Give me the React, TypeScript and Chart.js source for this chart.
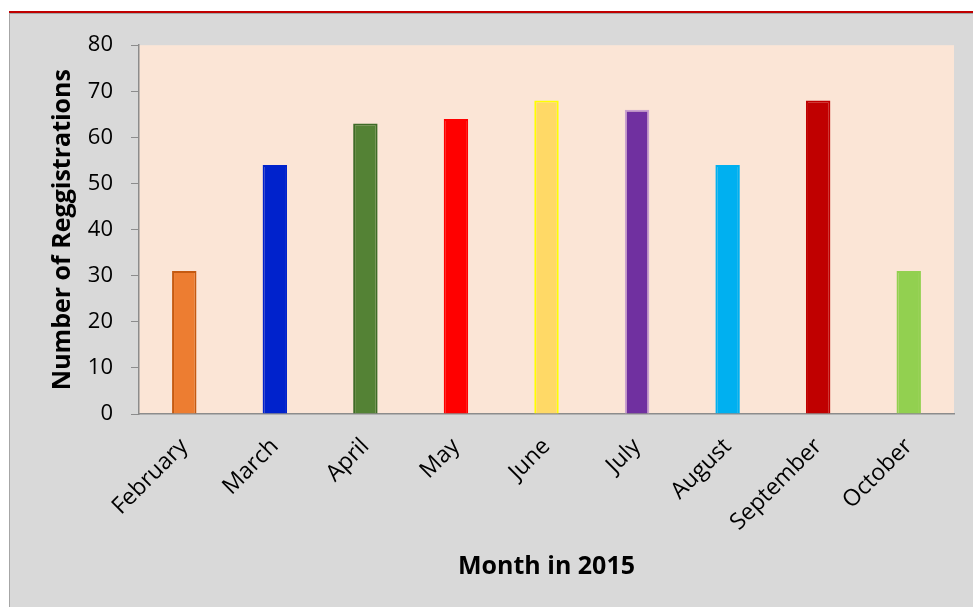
import React, { useEffect, useRef } from "react";
import { Chart, registerables } from "chart.js";

Chart.register(...registerables);

const months = ["February", "March", "April", "May", "June", "July", "August", "September", "October"];
const registrations = [31, 54, 63, 64, 68, 66, 54, 68, 31];
const barColors = ["#ED7D31", "#0022CC", "#548235", "#FF0000", "#FFD966", "#7030A0", "#00B0F0", "#C00000", "#92D050"];
const barBorders = ["#C55A11", "#0022CC", "#3E6B27", "#FF0000", "#FFFF00", "#C9A0CF", "#00B0F0", "#C00000", "#92D050"];
const yTitle = "Number of Reggistrations";
const xTitle = "Month in 2015";

const plotBg = {
  id: "plotBg",
  beforeDraw(chart: any) {
    const { ctx, chartArea } = chart;
    ctx.save();
    ctx.fillStyle = "#FBE5D6";
    ctx.fillRect(chartArea.left, chartArea.top, chartArea.right - chartArea.left, chartArea.bottom - chartArea.top);
    ctx.restore();
  },
};

export default function App() {
  const ref = useRef<HTMLCanvasElement>(null);
  useEffect(() => {
    const chart = new Chart(ref.current!, {
      type: "bar",
      data: {
        labels: months,
        datasets: [
          {
            data: registrations,
            backgroundColor: barColors,
            borderColor: barBorders,
            borderWidth: 2,
            barPercentage: 0.27,
            categoryPercentage: 1,
          },
        ],
      },
      plugins: [plotBg],
      options: {
        responsive: false,
        animation: false,
        devicePixelRatio: 1,
        layout: { padding: { top: 30, right: 19, left: 0, bottom: 0 } },
        plugins: { legend: { display: false }, tooltip: { enabled: false } },
        scales: {
          x: {
            grid: { display: true, drawOnChartArea: false, drawTicks: false },
            border: { display: true, color: "#8C8C8C", width: 1.5 },
            ticks: {
              color: "#000",
              font: { family: "Open Sans", size: 23 },
              maxRotation: 45,
              minRotation: 45,
              padding: 19,
            },
            title: {
              display: true,
              text: xTitle,
              color: "#000",
              font: { family: "Open Sans", size: 25, weight: "bold" },
              padding: { top: 0, bottom: 25 },
            },
            afterFit(scale: any) {
              scale.height = 193;
            },
          },
          y: {
            min: 0,
            max: 80,
            ticks: {
              stepSize: 10,
              color: "#000",
              font: { family: "Open Sans", size: 22 },
              padding: 18,
            },
            grid: { display: true, drawOnChartArea: false, drawTicks: true, tickLength: 8, color: "#8C8C8C" },
            border: { display: true, color: "#8C8C8C", width: 1.5 },
            title: {
              display: true,
              text: yTitle,
              color: "#000",
              font: { family: "Open Sans", size: 25, weight: "bold" },
              padding: { top: 38, bottom: 0 },
            },
            afterFit(scale: any) {
              scale.width = 129;
            },
          },
        },
      },
    });
    return () => chart.destroy();
  }, []);

  return (
    <div style={{ position: "fixed", left: 0, top: 0, width: 973, height: 607, overflow: "hidden", background: "#fff" }}>
      <div style={{ position: "absolute", left: 9, right: 0, top: 11, height: 2, background: "#C00000" }} />
      <div style={{ position: "absolute", left: 9, right: 0, top: 13, height: 1, background: "#A6A6A6" }} />
      <div
        style={{
          position: "absolute",
          left: 9,
          top: 14,
          width: 964,
          height: 593,
          boxSizing: "border-box",
          borderLeft: "1px solid #A6A6A6",
          background: "#D9D9D9",
        }}
      >
        <canvas ref={ref} width={963} height={593} style={{ display: "block", width: 963, height: 593 }} />
      </div>
    </div>
  );
}
